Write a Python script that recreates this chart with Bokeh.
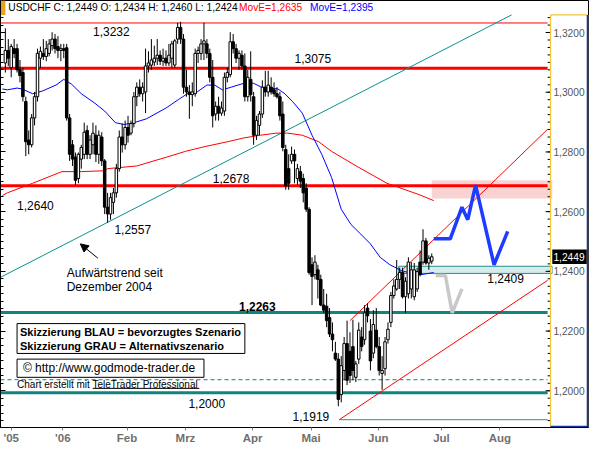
from bokeh.plotting import figure
from bokeh.models import (Range1d, LinearAxis, FixedTicker, CustomJSTickFormatter,
                          Arrow, NormalHead)
from bokeh.core.properties import value
from bokeh.embed import file_html
from bokeh.resources import INLINE

FONT = "Liberation Sans"

# ---- daily USDCHF bars, index 0 = 1 Dec 2005 ... 146 = 27 Jun 2006 ----
opens = [1.3098, 1.3140, 1.3082, 1.3146, 1.3146, 1.3075, 1.3066, 1.2969, 1.2840, 1.2824,
         1.2914, 1.2985, 1.3114, 1.3130, 1.3120, 1.3130, 1.3156, 1.3178, 1.3153, 1.3140,
         1.3146, 1.3149, 1.2914, 1.2824, 1.2783, 1.2711, 1.2776, 1.2792, 1.2872, 1.2792,
         1.2824, 1.2856, 1.2792, 1.2850, 1.2770, 1.2615, 1.2592, 1.2631, 1.2663, 1.2744,
         1.2850, 1.2824, 1.2882, 1.2863, 1.2895, 1.2985, 1.3017, 1.2995, 1.3001, 1.3088,
         1.3091, 1.3101, 1.3114, 1.3124, 1.3104, 1.3114, 1.3098, 1.3114, 1.3091, 1.3178,
         1.3217, 1.3178, 1.3017, 1.3001, 1.2992, 1.2995, 1.3130, 1.3130, 1.3162, 1.3162,
         1.3130, 1.3050, 1.2927, 1.2953, 1.2930, 1.2937, 1.3050, 1.3059, 1.3169, 1.3146,
         1.3114, 1.3124, 1.3088, 1.2985, 1.3043, 1.2985, 1.2856, 1.2889, 1.2927, 1.3017,
         1.3001, 1.3017, 1.3008, 1.2995, 1.2985, 1.2927, 1.2808, 1.2744, 1.2770, 1.2792,
         1.2711, 1.2734, 1.2711, 1.2679, 1.2608, 1.2422, 1.2389, 1.2405, 1.2373, 1.2287,
         1.2283, 1.2245, 1.2190, 1.2126, 1.2106, 1.1987, 1.2068, 1.2158, 1.2132, 1.2148,
         1.2045, 1.2106, 1.2180, 1.2171, 1.2277, 1.2200, 1.2126, 1.2203, 1.2148, 1.2058,
         1.2074, 1.2171, 1.2229, 1.2319, 1.2341, 1.2373, 1.2396, 1.2315, 1.2325, 1.2341,
         1.2315, 1.2341, 1.2431, 1.2431, 1.2502, 1.2428, 1.2434]
highs = [1.3214, 1.3178, 1.3162, 1.3178, 1.3162, 1.3108, 1.3082, 1.2985, 1.2872, 1.2927,
         1.3001, 1.3146, 1.3153, 1.3178, 1.3172, 1.3178, 1.3201, 1.3195, 1.3188, 1.3162,
         1.3162, 1.3162, 1.2927, 1.2840, 1.2798, 1.2798, 1.2824, 1.2898, 1.2889, 1.2856,
         1.2898, 1.2889, 1.2872, 1.2866, 1.2776, 1.2663, 1.2663, 1.2679, 1.2760, 1.2872,
         1.2895, 1.2905, 1.2921, 1.2905, 1.3001, 1.3033, 1.3043, 1.3033, 1.3146, 1.3137,
         1.3178, 1.3156, 1.3178, 1.3140, 1.3146, 1.3140, 1.3162, 1.3172, 1.3178, 1.3233,
         1.3236, 1.3195, 1.3075, 1.3024, 1.3033, 1.3146, 1.3153, 1.3178, 1.3233, 1.3178,
         1.3146, 1.3108, 1.2969, 1.2985, 1.2969, 1.3066, 1.3082, 1.3201, 1.3195, 1.3162,
         1.3140, 1.3140, 1.3130, 1.3075, 1.3137, 1.3001, 1.2921, 1.2937, 1.3040, 1.3072,
         1.3072, 1.3050, 1.3033, 1.3017, 1.3001, 1.2969, 1.2824, 1.2792, 1.2818, 1.2808,
         1.2760, 1.2753, 1.2727, 1.2695, 1.2615, 1.2447, 1.2454, 1.2422, 1.2389, 1.2341,
         1.2325, 1.2277, 1.2229, 1.2164, 1.2126, 1.2116, 1.2180, 1.2235, 1.2196, 1.2238,
         1.2100, 1.2229, 1.2213, 1.2287, 1.2293, 1.2240, 1.2270, 1.2277, 1.2180, 1.2116,
         1.2180, 1.2229, 1.2331, 1.2373, 1.2438, 1.2412, 1.2412, 1.2380, 1.2447, 1.2431,
         1.2428, 1.2412, 1.2470, 1.2541, 1.2512, 1.2454, 1.2460]
lows = [1.3066, 1.3088, 1.3050, 1.3114, 1.3066, 1.3033, 1.2969, 1.2786, 1.2792, 1.2815,
        1.2889, 1.2969, 1.3082, 1.3108, 1.3104, 1.3120, 1.3140, 1.3130, 1.3114, 1.3104,
        1.3114, 1.2905, 1.2770, 1.2753, 1.2689, 1.2695, 1.2744, 1.2776, 1.2776, 1.2776,
        1.2792, 1.2766, 1.2760, 1.2753, 1.2592, 1.2563, 1.2573, 1.2592, 1.2647, 1.2734,
        1.2798, 1.2808, 1.2831, 1.2856, 1.2882, 1.2953, 1.2985, 1.2969, 1.2930, 1.3066,
        1.3075, 1.3088, 1.3091, 1.3091, 1.3088, 1.3088, 1.3088, 1.3082, 1.3082, 1.3162,
        1.3162, 1.2995, 1.2985, 1.2911, 1.2953, 1.2985, 1.3098, 1.3108, 1.3108, 1.3114,
        1.3033, 1.2882, 1.2905, 1.2905, 1.2921, 1.2921, 1.3033, 1.3050, 1.3130, 1.3098,
        1.3075, 1.3075, 1.2969, 1.2969, 1.2969, 1.2824, 1.2840, 1.2856, 1.2914, 1.2985,
        1.2985, 1.2992, 1.2985, 1.2979, 1.2905, 1.2802, 1.2673, 1.2673, 1.2760, 1.2695,
        1.2689, 1.2679, 1.2631, 1.2599, 1.2389, 1.2287, 1.2373, 1.2309, 1.2283, 1.2261,
        1.2213, 1.2180, 1.2132, 1.2100, 1.1948, 1.1961, 1.2035, 1.2019, 1.2026, 1.2035,
        1.2029, 1.2090, 1.2132, 1.2154, 1.2229, 1.2068, 1.2109, 1.2142, 1.2051, 1.2003,
        1.2051, 1.2158, 1.2213, 1.2309, 1.2335, 1.2341, 1.2309, 1.2261, 1.2309, 1.2309,
        1.2303, 1.2331, 1.2383, 1.2422, 1.2422, 1.2405, 1.2424]
closes = [1.3140, 1.3114, 1.3153, 1.3130, 1.3075, 1.3056, 1.2985, 1.2834, 1.2824, 1.2914,
          1.2985, 1.3130, 1.3137, 1.3120, 1.3146, 1.3162, 1.3178, 1.3146, 1.3140, 1.3146,
          1.3140, 1.2914, 1.2792, 1.2776, 1.2705, 1.2792, 1.2815, 1.2866, 1.2792, 1.2840,
          1.2863, 1.2792, 1.2856, 1.2770, 1.2615, 1.2592, 1.2647, 1.2663, 1.2744, 1.2850,
          1.2824, 1.2882, 1.2856, 1.2895, 1.2985, 1.3017, 1.2995, 1.3017, 1.3088, 1.3098,
          1.3108, 1.3114, 1.3124, 1.3104, 1.3114, 1.3098, 1.3124, 1.3162, 1.3172, 1.3217,
          1.3178, 1.3017, 1.3001, 1.2992, 1.3001, 1.3130, 1.3140, 1.3162, 1.3172, 1.3130,
          1.3050, 1.2921, 1.2953, 1.2930, 1.2947, 1.3050, 1.3066, 1.3169, 1.3146, 1.3114,
          1.3130, 1.3088, 1.2985, 1.3050, 1.2992, 1.2856, 1.2905, 1.2927, 1.3017, 1.3001,
          1.3024, 1.3001, 1.2995, 1.2985, 1.2921, 1.2815, 1.2686, 1.2695, 1.2792, 1.2770,
          1.2744, 1.2702, 1.2663, 1.2608, 1.2396, 1.2383, 1.2431, 1.2373, 1.2287, 1.2270,
          1.2235, 1.2190, 1.2171, 1.2106, 1.1971, 1.2084, 1.2158, 1.2035, 1.2051, 1.2068,
          1.2090, 1.2203, 1.2148, 1.2261, 1.2251, 1.2100, 1.2222, 1.2148, 1.2068, 1.2068,
          1.2164, 1.2206, 1.2319, 1.2351, 1.2373, 1.2396, 1.2315, 1.2367, 1.2431, 1.2405,
          1.2405, 1.2399, 1.2389, 1.2502, 1.2428, 1.2444, 1.2449]

# ---- moving averages (bar index, value) ----
ma_blue_x = [-1.0, 0.67, 4.0, 5.67, 9.33, 12.67, 17.33, 20.0, 22.67, 26.0, 30.67, 34.0,
             37.67, 40.67, 44.0, 48.33, 55.0, 59.33, 62.33, 65.67, 69.0, 71.67, 74.33,
             77.33, 81.67, 85.0, 87.67, 90.67, 93.33, 95.67, 98.33, 101.67, 105.0, 108.33,
             111.67, 115.0, 118.33, 121.67, 125.0, 128.33, 131.67, 135.67, 139.33, 142.33, 146.67]
ma_blue_y = [1.3011, 1.3008, 1.3014, 1.3011, 1.2995, 1.3004, 1.3024, 1.3043, 1.3027, 1.2995,
             1.2963, 1.2937, 1.2898, 1.2892, 1.2898, 1.2911, 1.2947, 1.2976, 1.2995, 1.3001,
             1.3024, 1.3024, 1.3008, 1.3017, 1.3030, 1.3030, 1.3017, 1.3014, 1.3011, 1.2995,
             1.2969, 1.2930, 1.2856, 1.2792, 1.2715, 1.2608, 1.2557, 1.2525, 1.2492, 1.2447,
             1.2422, 1.2402, 1.2393, 1.2389, 1.2396]
ma_red_x = [-1.0, 0.67, 9.33, 19.33, 26.0, 34.0, 35.0, 45.0, 55.0, 61.67, 68.33, 76.0,
            81.67, 87.33, 92.67, 96.67, 101.67, 107.33, 111.67, 120.67, 130.67, 141.67, 146.67]
ma_red_y = [1.2654, 1.2663, 1.2695, 1.2734, 1.2734, 1.2737, 1.2744, 1.2753, 1.2782, 1.2802,
            1.2818, 1.2834, 1.2847, 1.2856, 1.2863, 1.2863, 1.2856, 1.2834, 1.2802, 1.2750,
            1.2695, 1.2657, 1.2637]

# ---- drawn levels, trend lines, scenarios ----
top_level = 1.3232
red_levels = [1.3080, 1.2687]
teal_levels = [1.2262, 1.1993]
dash_level = 1.2037
low_level = 1.1903
trend_x = [-1.67, 173.33]
trend_y = [1.2380, 1.3259]
chan_up_x = [118.0, 185.67]
chan_up_y = [1.2235, 1.2876]
chan_lo_x = [114.33, 185.67]
chan_lo_y = [1.1903, 1.2370]
blue_x = [146.67, 152.33, 156.33, 158.33, 161.0, 167.33, 172.0]
blue_y = [1.2509, 1.2509, 1.2615, 1.2573, 1.2689, 1.2422, 1.2534]
grey_x = [147.33, 150.67, 153.0, 156.33]
grey_y = [1.2386, 1.2386, 1.2261, 1.2341]
pink_zone = (146.0, 1.2644, 1.2705)
cyan_zone = (134.67, 1.2393, 1.2417)
last_close = closes[-1]

# ---- axis ticks ----
price_ticks = [1.20, 1.22, 1.24, 1.26, 1.28, 1.30, 1.32]
price_labels = ["1,2000", "1,2200", "1,2400", "1,2600", "1,2800", "1,3000", "1,3200"]
month_ticks = [2.0, 19.67, 41.67, 61.67, 84.67, 104.67, 127.67, 149.33, 169.33]
month_labels = ["'05", "'06", "Feb", "Mrz", "Apr", "Mai", "Jun", "Jul", "Aug"]
minor = [round(1.1875 + 0.0025 * k, 4) for k in range(56)]

X0, X1 = -1.667, 199.667      # plot area incl. price scale panel
XA = 186.667                  # left edge of price scale panel
Y0, Y1 = 1.18769, 1.33073
YH = 1.3259                   # lower edge of the header strip

p = figure(width=589, height=446, output_backend="svg", toolbar_location=None,
           x_range=Range1d(X0, X1), y_range=Range1d(Y0, Y1),
           x_axis_type=None, y_axis_type=None,
           min_border_left=0, min_border_right=1, min_border_top=0, min_border_bottom=17)
p.outline_line_color = "black"
p.background_fill_color = "white"
p.border_fill_color = "white"

# zones
p.quad(left=[pink_zone[0]], right=[XA + 0.7], bottom=[pink_zone[1]], top=[pink_zone[2]],
       fill_color="#f9d2d2", line_color=None)
p.quad(left=[cyan_zone[0]], right=[XA + 0.7], bottom=[cyan_zone[1]], top=[cyan_zone[2]],
       fill_color="#d3ecec", line_color="#2a8c8c", line_width=1)

# horizontal levels
LE = XA - 1.0
p.segment(x0=[X0], x1=[LE], y0=[top_level], y1=[top_level], line_color="#ff0000", line_width=1)
p.segment(x0=[X0] * 2, x1=[LE] * 2, y0=red_levels, y1=red_levels, line_color="#ff0000", line_width=3)
p.segment(x0=[X0] * 2, x1=[LE] * 2, y0=teal_levels, y1=teal_levels, line_color="#0e8580", line_width=3)
p.segment(x0=[X0], x1=[LE], y0=[dash_level], y1=[dash_level], line_color="#0e8580",
          line_width=1, line_dash="4 3")
p.segment(x0=[chan_lo_x[0]], x1=[LE], y0=[low_level], y1=[low_level], line_color="#3a8a8a", line_width=1)

# trend and channel lines
p.line(trend_x, trend_y, line_color="#0e9090", line_width=1)
p.line(chan_up_x, chan_up_y, line_color="#ff0000", line_width=1)
p.line(chan_lo_x, chan_lo_y, line_color="#ff0000", line_width=1)

# moving averages
p.line(ma_red_x, ma_red_y, line_color="#ff0000", line_width=1)
p.line(ma_blue_x, ma_blue_y, line_color="#0000ff", line_width=1)

# candles
idx = list(range(len(closes)))
tops = [max(o, c) for o, c in zip(opens, closes)]
bots = [min(o, c) for o, c in zip(opens, closes)]
fills = ["white" if c >= o else "black" for o, c in zip(opens, closes)]
p.segment(x0=idx, y0=lows, x1=idx, y1=highs, line_color="black", line_width=1)
p.vbar(x=idx, top=tops, bottom=bots, width=0.85, fill_color=fills, line_color="black", line_width=1)

# scenarios
p.line(grey_x, grey_y, line_color="#c8c8c8", line_width=3.5)
p.line(blue_x, blue_y, line_color="#1e3cff", line_width=3.5)

# text boxes
p.quad(left=[4], right=[82], bottom=[1.2125], top=[1.2225], fill_color="white", line_color="black")
p.quad(left=[4], right=[68], bottom=[1.2045], top=[1.2106], fill_color="white", line_color="black")

def txt(x, y, s, size="12px", color="black", style="normal", font=FONT):
    p.text(x=[x], y=[y], text=[s], text_font=value(font), text_font_size=size,
           text_color=color, text_font_style=style, text_baseline="middle", text_align="left")

txt(30, 1.3204, "1,3232")
txt(99, 1.3114, "1,3075")
txt(4, 1.2621, "1,2640")
txt(37.33, 1.2541, "1,2557")
txt(71, 1.2710, "1,2678")
txt(62.67, 1.1956, "1,2000")
txt(98.33, 1.1915, "1,1919")
txt(165, 1.2377, "1,2409")
txt(21, 1.2396, "Aufwärtstrend seit")
txt(21, 1.2346, "Dezember 2004")
txt(80, 1.2283, "1,2263", style="bold")
txt(5, 1.2198, "Skizzierung BLAU = bevorzugtes Szenario", size="11px", style="bold")
txt(5, 1.2149, "Skizzierung GRAU = Alternativszenario", size="11px", style="bold")
txt(6, 1.2076, "© http://www.godmode-trader.de", size="12px")
txt(4, 1.2021, "Chart erstellt mit TeleTrader Professional", size="10px")
p.segment(x0=[29.9], x1=[66.4], y0=[1.2008], y1=[1.2008], line_color="black", line_width=1)

# header
p.quad(left=[X0], right=[0.0], bottom=[YH], top=[Y1], fill_color="#f0a020", line_color=None)
txt(1, 1.3283, "USDCHF C: 1,2449 O: 1,2434 H: 1,2460 L: 1,2424", size="10.2px")
txt(80, 1.3283, "MovE=1,2635", size="10.2px", color="#ff0000")
txt(104.33, 1.3283, "MovE=1,2395", size="10.2px", color="#0000ff")

# arrow
p.add_layout(Arrow(end=NormalHead(size=8, fill_color="black", line_color="black"),
                   x_start=31.67, y_start=1.2444, x_end=25.67, y_end=1.2492,
                   line_color="black", line_width=1))

# ---- price scale panel on the right ----
p.quad(left=[XA + 0.7], right=[X1], bottom=[Y0], top=[YH], fill_color="white", line_color=None)
p.segment(x0=[XA - 1.7] * len(price_ticks), x1=[XA] * len(price_ticks),
          y0=price_ticks, y1=price_ticks, line_color="black", line_width=1)
p.segment(x0=[XA - 1.0] * len(minor), x1=[XA] * len(minor),
          y0=minor, y1=minor, line_color="black", line_width=1)
p.segment(x0=[XA, XA], x1=[XA, X1 - 0.35], y0=[Y0, YH], y1=[YH, YH],
          line_color="#f2c43a", line_width=1.2)
p.segment(x0=[X1 - 0.35, XA], x1=[X1 - 0.35, X1 - 0.35], y0=[Y0, Y0 + 0.0003], y1=[YH, Y0 + 0.0003],
          line_color="#1434a4", line_width=1.5)
p.text(x=[XA + 1.0] * len(price_ticks), y=price_ticks, text=price_labels,
       text_font=value(FONT), text_font_size="10.2px", text_color="#555555",
       text_baseline="middle", text_align="left")
p.quad(left=[XA + 0.6], right=[X1 - 0.6], bottom=[last_close - 0.0024], top=[last_close + 0.0024],
       fill_color="black", line_color=None)
p.text(x=[XA + 1.0], y=[last_close], text=["1,2449"], text_font=value(FONT),
       text_font_size="10.2px", text_color="white", text_baseline="middle", text_align="left")

# ---- axes ----
ly = LinearAxis(ticker=FixedTicker(ticks=price_ticks, minor_ticks=minor),
                formatter=CustomJSTickFormatter(code="return ''"),
                major_tick_in=5, major_tick_out=0, minor_tick_in=3, minor_tick_out=0,
                major_label_standoff=0, axis_line_color="black",
                major_label_text_font_size="1px")
p.add_layout(ly, "left")
bx = LinearAxis(ticker=FixedTicker(ticks=month_ticks, minor_ticks=[]),
                formatter=CustomJSTickFormatter(args=dict(labels=month_labels), code="return labels[index]"),
                major_tick_in=0, major_tick_out=3, major_tick_line_color="#808080",
                axis_line_color="black", major_label_standoff=1,
                major_label_text_font=FONT, major_label_text_font_size="11.5px",
                major_label_text_font_style="bold", major_label_text_color="#707070")
p.add_layout(bx, "below")

open("out.html", "w").write(file_html(p, INLINE))
